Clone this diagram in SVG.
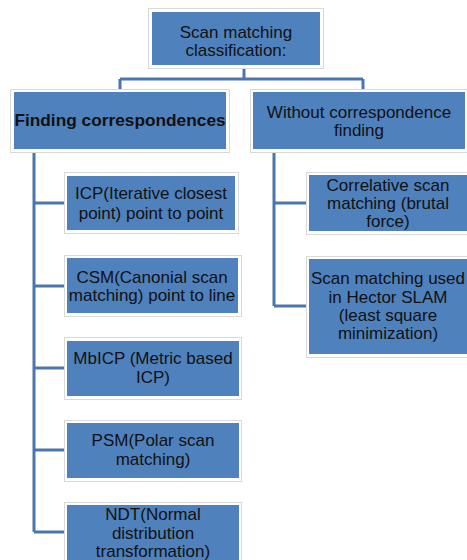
<svg xmlns="http://www.w3.org/2000/svg" width="467" height="560" viewBox="0 0 467 560">
  <style>
    .frame { fill: #ffffff; stroke: #d9d9d9; stroke-width: 1; }
    .box { fill: #4f81bd; }
    .lbl { font-family: "Liberation Sans", Arial, sans-serif; font-size: 17px; fill: #111111; text-anchor: middle; }
    .bold { font-weight: bold; font-size: 17.3px; }
    .conn { fill: none; stroke: #4a76ad; stroke-width: 3; }
  </style>
  <rect width="467" height="560" fill="#ffffff"/>

  <g id="connectors">
    <path class="conn" d="M244,68 V79 M120,79 H363 M120,79 V90 M363,79 V90"/>
    <path class="conn" d="M34,152 V532 M34,203 H67 M34,286 H67 M34,368 H67 M34,450 H67 M34,532 H67"/>
    <path class="conn" d="M274,152 V306 M274,203 H309 M274,306 H309"/>
  </g>

  <g id="root">
    <rect class="frame" x="148.5" y="8.5" width="175" height="60"/>
    <rect class="box" x="152" y="12" width="168" height="53"/>
    <text class="lbl" x="236" y="38">Scan matching</text>
    <text class="lbl" x="236" y="56">classification:</text>
  </g>

  <g id="finding">
    <rect class="frame" x="10.5" y="89.5" width="219" height="63"/>
    <rect class="box" x="14" y="92" width="212" height="57"/>
    <text class="lbl bold" x="120" y="126">Finding correspondences</text>
  </g>

  <g id="without">
    <rect class="frame" x="250.5" y="89.5" width="219" height="63"/>
    <rect class="box" x="253" y="92" width="212" height="57"/>
    <text class="lbl" x="359" y="118">Without correspondence</text>
    <text class="lbl" x="359" y="136">finding</text>
  </g>

  <g id="icp">
    <rect class="frame" x="64.5" y="172.5" width="174" height="61"/>
    <rect class="box" x="67" y="176" width="168" height="54"/>
    <text class="lbl" x="151" y="199">ICP(Iterative closest</text>
    <text class="lbl" x="151" y="219">point) point to point</text>
  </g>

  <g id="csm">
    <rect class="frame" x="64.5" y="255.5" width="177" height="61"/>
    <rect class="box" x="67" y="258" width="171" height="55"/>
    <text class="lbl" x="152" y="283">CSM(Canonial scan</text>
    <text class="lbl" x="152" y="301">matching) point to line</text>
  </g>

  <g id="mbicp">
    <rect class="frame" x="64.5" y="337.5" width="177" height="62"/>
    <rect class="box" x="67" y="341" width="172" height="55"/>
    <text class="lbl" x="153" y="364">MbICP (Metric based</text>
    <text class="lbl" x="153" y="383">ICP)</text>
  </g>

  <g id="psm">
    <rect class="frame" x="64.5" y="420.5" width="177" height="61"/>
    <rect class="box" x="67" y="423" width="172" height="55"/>
    <text class="lbl" x="153" y="446">PSM(Polar scan</text>
    <text class="lbl" x="153" y="465">matching)</text>
  </g>

  <g id="ndt">
    <rect class="frame" x="64.5" y="502.5" width="177" height="62"/>
    <rect class="box" x="67" y="505" width="172" height="60"/>
    <text class="lbl" x="153" y="520">NDT(Normal</text>
    <text class="lbl" x="153" y="539">distribution</text>
    <text class="lbl" x="153" y="557">transformation)</text>
  </g>

  <g id="correlative">
    <rect class="frame" x="306.5" y="172.5" width="165" height="62"/>
    <rect class="box" x="309" y="175" width="158" height="56"/>
    <text class="lbl" x="388" y="191">Correlative scan</text>
    <text class="lbl" x="388" y="209">matching (brutal</text>
    <text class="lbl" x="388" y="227">force)</text>
  </g>

  <g id="hector">
    <rect class="frame" x="306.5" y="256.5" width="165" height="101"/>
    <rect class="box" x="309" y="259" width="158" height="95"/>
    <text class="lbl" x="388" y="284">Scan matching used</text>
    <text class="lbl" x="388" y="303">in Hector SLAM</text>
    <text class="lbl" x="388" y="321">(least square</text>
    <text class="lbl" x="388" y="339">minimization)</text>
  </g>
</svg>
